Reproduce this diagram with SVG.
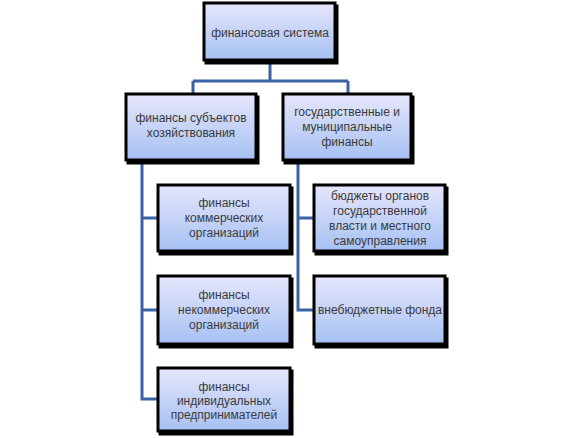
<svg xmlns="http://www.w3.org/2000/svg" width="574" height="438" viewBox="0 0 574 438">
<defs>
<linearGradient id="g" x1="0" y1="0" x2="0" y2="1">
<stop offset="0" stop-color="#e6e6fc"/>
<stop offset="1" stop-color="#a6c1f3"/>
</linearGradient>
<filter id="sh" x="-10%" y="-10%" width="125%" height="130%">
<feOffset dx="2" dy="3" in="SourceAlpha" result="o"/>
<feMerge><feMergeNode in="o"/><feMergeNode in="SourceGraphic"/></feMerge>
</filter>
</defs>
<style>
.box{fill:url(#g);stroke:#000;stroke-width:3;filter:url(#sh)}
.t{font-family:"Liberation Sans",Arial,sans-serif;font-size:12px;fill:#3a3a3a;text-anchor:middle}
.c{fill:none;stroke:#3b62a4;stroke-width:3}
</style>
<rect width="574" height="438" fill="#fff"/>
<g id="connectors">
<path class="c" d="M270 61V81M193 81H348M193 81V93M348 81V93"/>
<path class="c" d="M142 161V399H158M142 218H158M142 310H158"/>
<path class="c" d="M298 161V310H314M298 218H314"/>
</g>
<g id="n1"><rect class="box" x="204" y="3" width="131" height="57"/>
<text class="t" x="270" y="37">финансовая система</text></g>
<g id="n2"><rect class="box" x="126" y="94" width="130" height="66"/>
<text class="t"><tspan x="191" y="122">финансы субъектов</tspan><tspan x="191" y="137">хозяйствования</tspan></text></g>
<g id="n3"><rect class="box" x="283" y="94" width="128" height="66"/>
<text class="t"><tspan x="347" y="116">государственные и</tspan><tspan x="347" y="131">муниципальные</tspan><tspan x="347" y="146">финансы</tspan></text></g>
<g id="n4"><rect class="box" x="158" y="185" width="132" height="66"/>
<text class="t"><tspan x="224" y="207">финансы</tspan><tspan x="224" y="222">коммерческих</tspan><tspan x="224" y="237">организаций</tspan></text></g>
<g id="n5"><rect class="box" x="314" y="185" width="131" height="66"/>
<text class="t"><tspan x="380" y="200">бюджеты органов</tspan><tspan x="380" y="215">государственной</tspan><tspan x="380" y="230">власти и местного</tspan><tspan x="380" y="245">самоуправления</tspan></text></g>
<g id="n6"><rect class="box" x="158" y="276" width="132" height="68"/>
<text class="t"><tspan x="224" y="299">финансы</tspan><tspan x="224" y="314">некоммерческих</tspan><tspan x="224" y="329">организаций</tspan></text></g>
<g id="n7"><rect class="box" x="314" y="276" width="131" height="68"/>
<text class="t" x="380" y="314">внебюджетные фонда</text></g>
<g id="n8"><rect class="box" x="158" y="368" width="132" height="63"/>
<text class="t"><tspan x="224" y="391">финансы</tspan><tspan x="224" y="405">индивидуальных</tspan><tspan x="224" y="419">предпринимателей</tspan></text></g>
</svg>
